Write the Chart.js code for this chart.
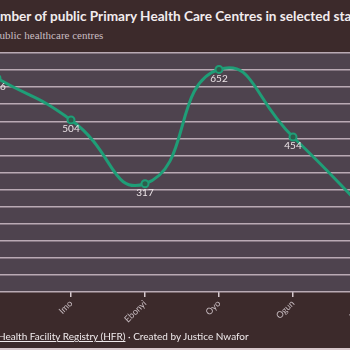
<!DOCTYPE html>
<html>
<head>
<meta charset="utf-8">
<script src="https://cdn.jsdelivr.net/npm/chart.js@4"></script>
<style>
  html, body { margin: 0; padding: 0; width: 350px; height: 350px; overflow: hidden; background: #3c2a2b; }
  #titulo { position: absolute; left: -18px; top: 8px; white-space: nowrap; font: bold 13.6px Lato, sans-serif; color: #f2ecee; }
  #subtitulo { position: absolute; left: -6px; top: 29px; white-space: nowrap; font: 11px "Liberation Serif", serif; color: #c9bec2; }
  #pie { position: absolute; left: -2px; top: 330px; white-space: nowrap; font: 10px Lato, sans-serif; color: #f0eaec; }
  .prefijo { position: absolute; right: 100%; }
  #pie u { text-decoration-thickness: 1px; }
  #borde { position: absolute; left: 0; top: 348px; width: 350px; height: 2px; background: #d9c9cd; }
  #caja { position: absolute; left: -40px; top: 0; width: 440px; height: 350px; }
</style>
</head>
<body>
<div id="titulo">Number of public Primary Health Care Centres in selected states</div>
<div id="subtitulo"><span class="prefijo">Number of&nbsp;</span>public healthcare centres</div>
<div id="caja"><canvas id="grafica"></canvas></div>
<div id="pie"><span class="prefijo">Source:&nbsp;</span><u>Health Facility Registry (HFR)</u> · Created by Justice Nwafor</div>
<div id="borde"></div>

<script>
// DATOS
const estados = ["Kano", "Imo", "Ebonyi", "Oyo", "Ogun", "Lagos"];
const centros = [626, 504, 317, 652, 454, 235];
const escalaY = { min: 0, max: 700, paso: 50 };

// FONDO DEL ÁREA DEL GRÁFICO
const fondoArea = {
    id: "fondoArea",
    beforeDraw(chart) {
        const a = chart.chartArea;
        const ctx = chart.ctx;
        ctx.save();
        ctx.fillStyle = "#4e434e";
        ctx.fillRect(a.left, a.top, a.right - a.left, a.bottom - a.top);
        ctx.restore();
    }
};

// ETIQUETAS DE VALORES DEBAJO DE CADA PUNTO
const etiquetas = {
    id: "etiquetas",
    afterDatasetsDraw(chart) {
        const ctx = chart.ctx;
        const meta = chart.getDatasetMeta(0);
        ctx.save();
        ctx.font = "10px Lato, sans-serif";
        ctx.fillStyle = "#ece4e7";
        ctx.textAlign = "center";
        ctx.textBaseline = "top";
        meta.data.forEach((p, i) => {
            ctx.fillText(centros[i], p.x, p.y + 4);
        });
        ctx.restore();
    }
};

const ctx = document.getElementById("grafica").getContext("2d");
const miGrafica = new Chart(ctx, {
    type: "line",
    data: {
        labels: estados,
        datasets: [{
            data: centros,
            borderColor: "#1f9e77",
            borderWidth: 3,
            tension: 0.55,
            pointRadius: 3.5,
            pointBorderWidth: 2,
            pointBackgroundColor: "#2d5d4c",
            pointBorderColor: "#1f9e77",
            clip: false
        }]
    },
    options: {
        responsive: true,
        maintainAspectRatio: false,
        animation: false,
        layout: { padding: { left: 37, right: 33, top: 53, bottom: 0 } },
        plugins: { legend: { display: false }, tooltip: { enabled: false } },
        scales: {
            x: {
                offset: false,
                grid: { display: true, drawOnChartArea: false, drawTicks: true, tickLength: 5, color: "#d5c8cd", lineWidth: 1.5 },
                border: { display: false },
                ticks: { minRotation: 45, maxRotation: 45, color: "#c7bbc0", font: { size: 9, family: "Lato" }, padding: 1 },
                afterFit: axis => { axis.height = 58; }
            },
            y: {
                min: escalaY.min,
                max: escalaY.max,
                grid: { color: "#b9aab4", lineWidth: 1.5, drawTicks: false },
                border: { display: false },
                ticks: { stepSize: escalaY.paso, display: false },
                afterFit: axis => { axis.width = 0; }
            }
        }
    },
    plugins: [fondoArea, etiquetas]
});
</script>
</body>
</html>
